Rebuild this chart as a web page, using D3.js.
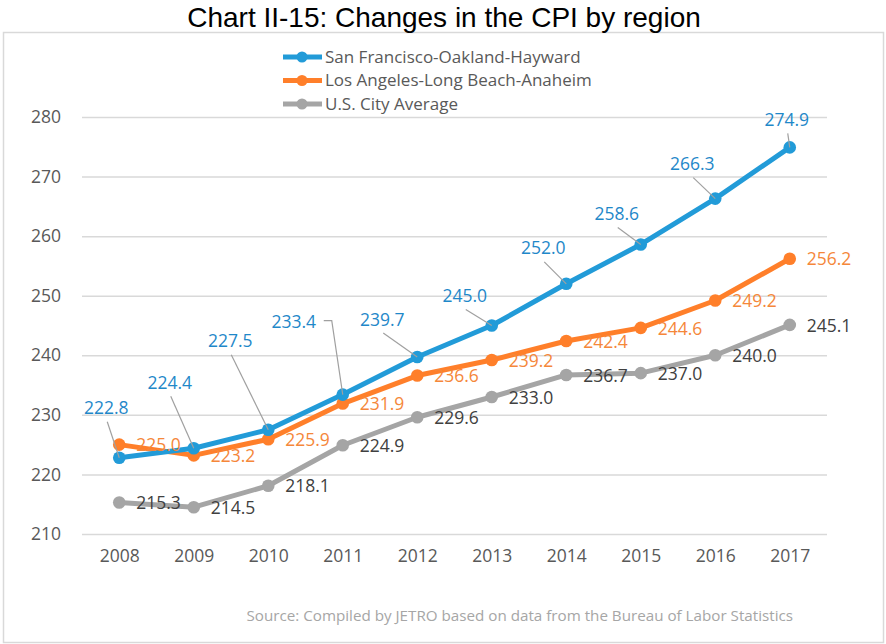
<!DOCTYPE html>
<html>
<head>
<meta charset="utf-8">
<script src="https://cdn.jsdelivr.net/npm/d3@7"></script>
<style>
  body { margin: 0; background: #fff; }
  svg text { font-family: "Open Sans", sans-serif; }
</style>
</head>
<body>
<svg width="886" height="644"></svg>
<script>
// data
var years = ["2008", "2009", "2010", "2011", "2012", "2013", "2014", "2015", "2016", "2017"];
var sanFrancisco = [222.8, 224.4, 227.5, 233.4, 239.7, 245.0, 252.0, 258.6, 266.3, 274.9];
var losAngeles = [225.0, 223.2, 225.9, 231.9, 236.6, 239.2, 242.4, 244.6, 249.2, 256.2];
var usAverage = [215.3, 214.5, 218.1, 224.9, 229.6, 233.0, 236.7, 237.0, 240.0, 245.1];
var yTicks = [210, 220, 230, 240, 250, 260, 270, 280];
var seriesNames = ["San Francisco-Oakland-Hayward", "Los Angeles-Long Beach-Anaheim", "U.S. City Average"];

// where the San Francisco labels sit, relative to their point (pixels)
var sfLabelShift = [[-13, -49], [-24, -65], [-38, -88], [-49, -72], [-35, -37],
                    [-27, -29], [-23, -35], [-24, -30], [-23, -34], [-3, -27]];

var svg = d3.select("svg");

// outer frame
svg.append("rect")
    .attr("x", 3.5).attr("y", 32.5).attr("width", 880).attr("height", 610)
    .attr("fill", "none").attr("stroke", "#d9d9d9").attr("stroke-width", 1.5);

svg.append("text")
    .attr("x", 444).attr("y", 27)
    .attr("text-anchor", "middle")
    .style("font-family", "'Liberation Sans', Arial, sans-serif")
    .style("font-size", "28px")
    .attr("fill", "#000")
    .text("Chart II-15: Changes in the CPI by region");

var scX = d3.scalePoint().domain(years).range([82, 827]).padding(0.5);
var scY = d3.scaleLinear().domain([210, 280]).range([534, 117]);

// gridlines + y labels
var yAxis = svg.append("g")
    .attr("transform", "translate(82,0)")
    .call(d3.axisLeft(scY).tickValues(yTicks).tickSize(-745).tickPadding(21).tickFormat(d3.format("d")));
yAxis.select(".domain").remove();
yAxis.selectAll("line").attr("stroke", "#d9d9d9").attr("stroke-width", 1.5);
yAxis.selectAll("text").attr("fill", "#595959").style("font-size", "17.5px")
    .style("font-family", "'Open Sans', sans-serif");

var xAxis = svg.append("g")
    .attr("transform", "translate(0,534)")
    .call(d3.axisBottom(scX).tickSize(0).tickPadding(16));
xAxis.select(".domain").remove();
xAxis.selectAll("text").attr("fill", "#595959").style("font-size", "17.5px")
    .style("font-family", "'Open Sans', sans-serif");

var series = [
    { name: seriesNames[0], values: sanFrancisco, color: "#229bd8", label: "#1f88c9" },
    { name: seriesNames[1], values: losAngeles, color: "#ff7f2a", label: "#f5873a" },
    { name: seriesNames[2], values: usAverage, color: "#a5a5a5", label: "#404040" }
];

var lineMaker = d3.line()
    .x((d, i) => scX(years[i]))
    .y(d => scY(d));

// draw bottom series first so blue ends on top
series.slice().reverse().forEach(function (s) {
    var g = svg.append("g");
    g.append("path")
        .attr("d", lineMaker(s.values))
        .attr("fill", "none").attr("stroke", s.color)
        .attr("stroke-width", 5).attr("stroke-linejoin", "round");
    g.selectAll("circle")
        .data(s.values).enter().append("circle")
        .attr("cx", (d, i) => scX(years[i]))
        .attr("cy", d => scY(d))
        .attr("r", 6.3).attr("fill", s.color);
});

// labels for LA and US: to the right of the point
[series[1], series[2]].forEach(function (s) {
    svg.append("g").selectAll("text")
        .data(s.values).enter().append("text")
        .attr("x", (d, i) => scX(years[i]) + 17)
        .attr("y", d => scY(d) + 2)
        .attr("dominant-baseline", "middle")
        .attr("fill", s.label)
        .style("font-size", "17.5px")
        .text(d => d.toFixed(1));
});

// SF labels above-left, with leader lines
var sfG = svg.append("g");
sanFrancisco.forEach(function (v, i) {
    var px = scX(years[i]), py = scY(v);
    var lx = px + sfLabelShift[i][0], ly = py + sfLabelShift[i][1];
    var path;
    if (i === 3) {
        // elbow leader off the right side
        path = "M" + (lx + 30) + "," + (ly - 2) + "H" + (lx + 38) + "L" + px + "," + py;
    } else {
        path = "M" + (lx + 1) + "," + (ly + 13) + "L" + px + "," + py;
    }
    sfG.append("path").attr("d", path)
        .attr("fill", "none").attr("stroke", "#a0a0a0").attr("stroke-width", 1.2);
    sfG.append("text")
        .attr("x", lx).attr("y", ly + 1)
        .attr("text-anchor", "middle")
        .attr("dominant-baseline", "middle")
        .attr("fill", series[0].label)
        .style("font-size", "17.5px")
        .text(v.toFixed(1));
});

// legend
var legend = svg.append("g");
series.forEach(function (s, i) {
    var y = 57 + i * 23.5;
    legend.append("line")
        .attr("x1", 283).attr("x2", 322).attr("y1", y).attr("y2", y)
        .attr("stroke", s.color).attr("stroke-width", 5);
    legend.append("circle").attr("cx", 302).attr("cy", y).attr("r", 5.5).attr("fill", s.color);
    legend.append("text")
        .attr("x", 325).attr("y", y + 1)
        .attr("dominant-baseline", "middle")
        .attr("fill", "#595959")
        .style("font-size", "17px")
        .text(s.name);
});

svg.append("text")
    .attr("x", 793).attr("y", 617)
    .attr("text-anchor", "end")
    .attr("dominant-baseline", "middle")
    .attr("fill", "#a6a6a6")
    .style("font-size", "15.2px")
    .text("Source: Compiled by JETRO based on data from the Bureau of Labor Statistics");
</script>
</body>
</html>
